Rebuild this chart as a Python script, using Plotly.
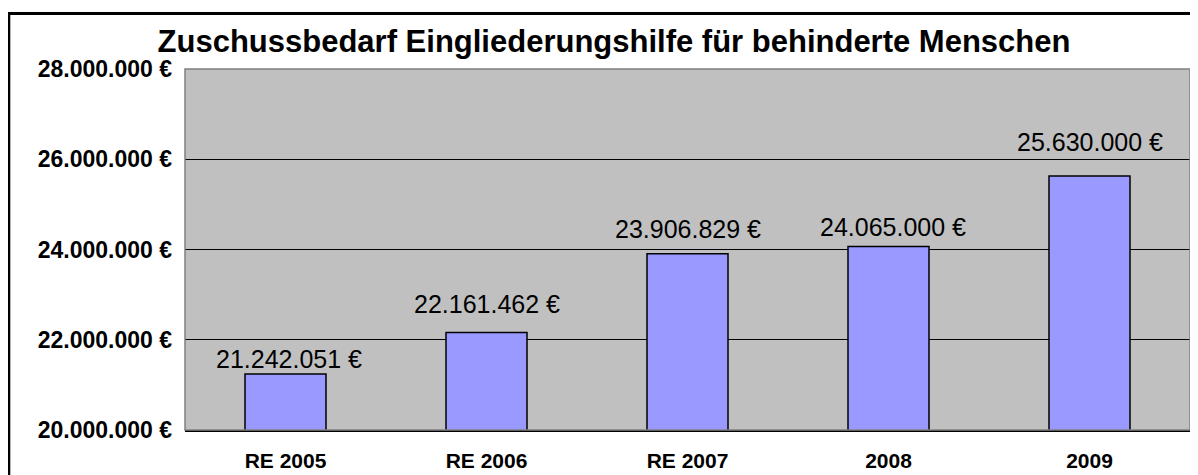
import plotly.graph_objects as go

categories = ["RE 2005", "RE 2006", "RE 2007", "2008", "2009"]
values = [21242051, 22161462, 23906829, 24065000, 25630000]
tick_values = [20000000, 22000000, 24000000, 26000000, 28000000]
title_text = "Zuschussbedarf Eingliederungshilfe für behinderte Menschen"

# label placement offsets (pixels) of the data labels, as in the source chart
label_yshift = [15, 28.7, 24.3, 20, 34.4]
label_xshift = [3, 0, 0, 4.5, 0]


def de_eur(v):
    return f"{v:,.0f}".replace(",", ".") + " €"


tick_labels = [de_eur(v) for v in tick_values]
bar_labels = [de_eur(v) for v in values]

FONT = "Liberation Sans, Arial, sans-serif"

fig = go.Figure()
fig.add_trace(go.Bar(
    x=categories,
    y=values,
    marker=dict(color="#9999FF", line=dict(color="#000000", width=1.5)),
    hoverinfo="skip",
))

# annotations reference the categories by their index on the category axis
for i, (v, t, dy, dx) in enumerate(zip(values, bar_labels, label_yshift, label_xshift)):
    fig.add_annotation(
        x=i, y=v, xref="x", yref="y", text=t, showarrow=False,
        xanchor="center", yanchor="middle", yshift=dy, xshift=dx,
        font=dict(family=FONT, size=25, color="#000000"),
    )

# page body has an 8px margin, so the figure is drawn 8px in from the window edge
W, H = 1190, 467
L, R, T, B = 177, 8, 61, 45
pw = W - L - R
ph = H - T - B


def px_x(x):
    return (x - L) / pw


def px_y(y):
    return (H - B - y) / ph


shapes = [
    dict(type="rect", xref="paper", yref="paper",
         x0=px_x(0.8), x1=px_x(1240), y0=px_y(520), y1=px_y(5.6),
         line=dict(color="#000000", width=3), fillcolor="rgba(0,0,0,0)", layer="below"),
    dict(type="rect", xref="paper", yref="paper", x0=0, x1=1, y0=0, y1=1,
         line=dict(color="#808080", width=1.5), fillcolor="rgba(0,0,0,0)", layer="above"),
]

fig.update_layout(
    width=W, height=H,
    margin=dict(l=L, r=R, t=T, b=B, pad=0, autoexpand=False),
    paper_bgcolor="#FFFFFF",
    plot_bgcolor="#C0C0C0",
    showlegend=False,
    bargap=0.597,
    title=dict(text=title_text, x=606 / W, xanchor="center", xref="container",
               y=1 - 33 / H, yanchor="middle", yref="container", automargin=False,
               font=dict(family=FONT, size=31, color="#000000", weight="bold")),
    shapes=shapes,
    font=dict(family=FONT, color="#000000"),
)

fig.update_yaxes(
    range=[20000000, 28000000],
    tickvals=tick_values,
    ticktext=tick_labels,
    tickfont=dict(family=FONT, size=23, color="#000000", weight="bold"),
    showgrid=True, gridcolor="#000000", gridwidth=1,
    zeroline=False, showline=False, ticks="",
    ticklabelstandoff=12, automargin=False,
    fixedrange=True,
)
fig.update_xaxes(
    type="category",
    categoryorder="array", categoryarray=categories,
    range=[-0.5, len(categories) - 0.5],
    tickfont=dict(family=FONT, size=21, color="#000000", weight="bold"),
    showline=True, linecolor="#000000", linewidth=1.5,
    ticks="", ticklabelstandoff=11, automargin=False,
    fixedrange=True,
)

fig.write_html("out.html")
